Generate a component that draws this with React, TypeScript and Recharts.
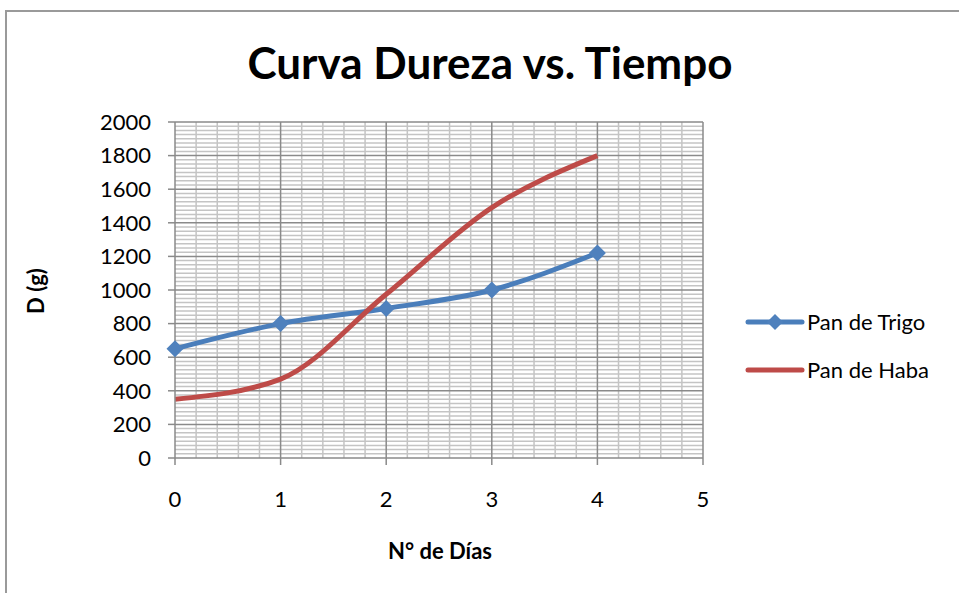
import {
  Line,
  LineChart,
  ReferenceLine,
  XAxis,
  YAxis,
} from "recharts";

const DIAS = [0, 1, 2, 3, 4];
const PAN_TRIGO = [650, 800, 890, 1000, 1220];
const PAN_HABA = [350, 470, 975, 1490, 1800];
const X_TICKS = [0, 1, 2, 3, 4, 5];
const Y_TICKS = [0, 200, 400, 600, 800, 1000, 1200, 1400, 1600, 1800, 2000];

// líneas secundarias de la cuadrícula (5 por día, 8 por cada 200 g)
const X_MINOR: number[] = [];
for (let i = 1; i < 25; i++) if (i % 5 !== 0) X_MINOR.push(i / 5);
const Y_MINOR: number[] = [];
for (let v = 25; v < 2000; v += 25) if (v % 200 !== 0) Y_MINOR.push(v);

const BLUE = "#4a7ebb";
const RED = "#be4b48";
const MAJOR = "#8a8a8a";
const MINOR = "#c4c4c4";
const FONT = "Lato, 'Open Sans', sans-serif";

const data = DIAS.map((d, i) => ({
  dia: d,
  trigo: PAN_TRIGO[i],
  haba: PAN_HABA[i],
}));

function diamond(cx: number, cy: number, r: number) {
  return `M${cx},${cy - r}L${cx + r},${cy}L${cx},${cy + r}L${cx - r},${cy}Z`;
}

function DiamondDot(props: any) {
  const { cx, cy, index } = props;
  if (cx == null || cy == null) return <g key={`d-${index}`} />;
  return <path key={`d-${index}`} d={diamond(cx, cy, 8.5)} fill="#4f81bd" />;
}

function LegendBox() {
  return (
    <svg width={210} height={80} style={{ fontFamily: FONT, display: "block" }}>
      <line x1={4} y1={17} x2={58} y2={17} stroke={BLUE} strokeWidth={5} strokeLinecap="round" />
      <path d={diamond(31, 17, 8)} fill="#4f81bd" />
      <text x={63} y={25} fontSize={22} fill="#000">
        Pan de Trigo
      </text>
      <line x1={4} y1={65} x2={58} y2={65} stroke={RED} strokeWidth={5} strokeLinecap="round" />
      <text x={63} y={73} fontSize={22} fill="#000">
        Pan de Haba
      </text>
    </svg>
  );
}

export default function App() {
  return (
    <div
      style={{
        position: "fixed",
        left: 0,
        top: 0,
        width: 959,
        height: 593,
        background: "#fff",
        overflow: "hidden",
        fontFamily: FONT,
      }}
    >
      <div
        style={{
          position: "absolute",
          left: 5,
          top: 10,
          width: 1000,
          height: 700,
          border: "2px solid #9a9a9a",
        }}
      />
      <div
        style={{
          position: "absolute",
          left: 0,
          width: 980,
          top: 36,
          textAlign: "center",
          fontSize: 44,
          fontWeight: 700,
          color: "#000",
        }}
      >
        Curva Dureza vs. Tiempo
      </div>
      <div
        style={{
          position: "absolute",
          left: 35,
          top: 291,
          transform: "translate(-50%, -50%) rotate(-90deg)",
          fontSize: 22,
          fontWeight: 700,
          whiteSpace: "nowrap",
        }}
      >
        D (g)
      </div>
      <div
        style={{
          position: "absolute",
          left: 440,
          top: 550,
          transform: "translate(-50%, -50%)",
          fontSize: 22,
          fontWeight: 700,
          whiteSpace: "nowrap",
        }}
      >
        N° de Días
      </div>
      <div style={{ position: "absolute", left: 0, top: 0 }}>
        <LineChart
          width={959}
          height={593}
          data={data}
          margin={{ top: 122, right: 256, bottom: 85, left: 115 }}
        >
          <XAxis
            dataKey="dia"
            type="number"
            domain={[0, 5]}
            ticks={X_TICKS}
            interval={0}
            stroke={MAJOR}
            axisLine={{ stroke: MAJOR, strokeWidth: 1.5 }}
            tickLine={{ stroke: MAJOR, strokeWidth: 1.5 }}
            tickSize={7}
            tickMargin={26}
            height={50}
            tick={{ fill: "#000", fontSize: 22, fontFamily: FONT }}
          />
          <YAxis
            type="number"
            domain={[0, 2000]}
            ticks={Y_TICKS}
            interval={0}
            stroke={MAJOR}
            axisLine={{ stroke: MAJOR, strokeWidth: 1.5 }}
            tickLine={{ stroke: MAJOR, strokeWidth: 1.5 }}
            tickSize={7}
            tickMargin={17}
            width={60}
            tick={{ fill: "#000", fontSize: 22, fontFamily: FONT }}
          />
          {X_MINOR.map((v) => (
            <ReferenceLine key={`xm-${v}`} x={v} stroke={MINOR} strokeWidth={1.5} />
          ))}
          {Y_MINOR.map((v) => (
            <ReferenceLine key={`ym-${v}`} y={v} stroke={MINOR} strokeWidth={1.5} />
          ))}
          {X_TICKS.slice(1).map((v) => (
            <ReferenceLine key={`xM-${v}`} x={v} stroke={MAJOR} strokeWidth={1.5} />
          ))}
          {Y_TICKS.slice(1).map((v) => (
            <ReferenceLine key={`yM-${v}`} y={v} stroke={MAJOR} strokeWidth={1.5} />
          ))}
          <Line
            type="monotone"
            dataKey="trigo"
            name="Pan de Trigo"
            stroke={BLUE}
            strokeWidth={5}
            dot={DiamondDot}
            activeDot={false}
            isAnimationActive={false}
          />
          <Line
            type="monotone"
            dataKey="haba"
            name="Pan de Haba"
            stroke={RED}
            strokeWidth={5}
            dot={false}
            activeDot={false}
            isAnimationActive={false}
          />
        </LineChart>
      </div>
      <div style={{ position: "absolute", left: 744, top: 305 }}>
        <LegendBox />
      </div>
    </div>
  );
}
